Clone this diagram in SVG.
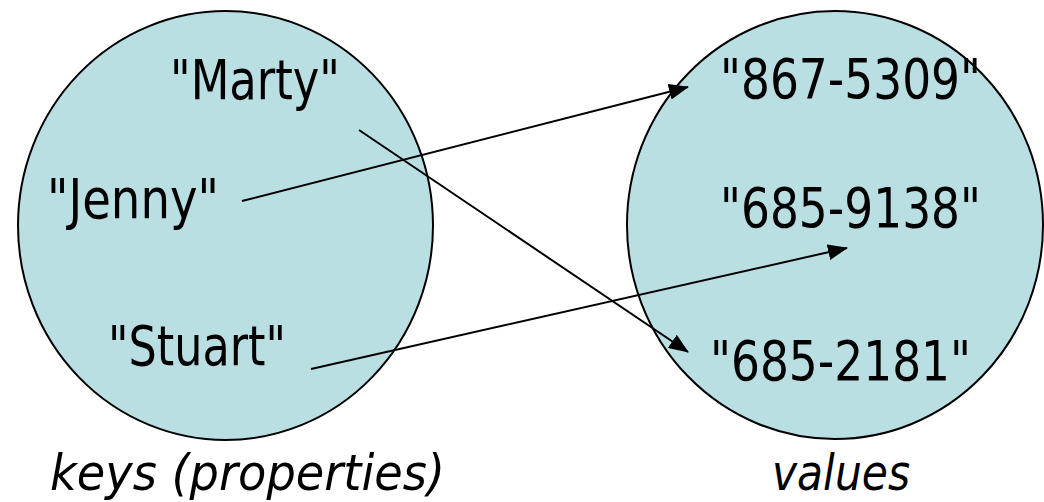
<svg xmlns="http://www.w3.org/2000/svg" width="1044" height="502" viewBox="0 0 1044 502">
<style>
.set{fill:#BADFE3;stroke:#000;stroke-width:2}
.lbl{font-family:"DejaVu Sans","Liberation Sans",sans-serif;font-size:56px;fill:#000}
.cap{font-family:"DejaVu Sans","Liberation Sans",sans-serif;font-size:50px;font-style:italic;fill:#000}
.con{stroke:#000;stroke-width:2;fill:none;marker-end:url(#ah)}
</style>
<defs>
<marker id="ah" viewBox="0 0 20 16" markerWidth="20" markerHeight="16" refX="19" refY="8" orient="auto" markerUnits="userSpaceOnUse">
<path d="M0,0 L20,8 L0,16 z" fill="#000"/>
</marker>
</defs>
<g id="keys">
<ellipse class="set" cx="225.5" cy="225.5" rx="207.5" ry="214.5"/>
<text class="lbl" x="170" y="99" textLength="170" lengthAdjust="spacingAndGlyphs">"Marty"</text>
<text class="lbl" x="47" y="218" textLength="172" lengthAdjust="spacingAndGlyphs">"Jenny"</text>
<text class="lbl" x="108" y="365" textLength="178" lengthAdjust="spacingAndGlyphs">"Stuart"</text>
</g>
<g id="values">
<ellipse class="set" cx="835" cy="225" rx="208" ry="214"/>
<text class="lbl" x="720" y="98" textLength="261" lengthAdjust="spacingAndGlyphs">"867-5309"</text>
<text class="lbl" x="720" y="227" textLength="261" lengthAdjust="spacingAndGlyphs">"685-9138"</text>
<text class="lbl" x="710" y="380" textLength="261" lengthAdjust="spacingAndGlyphs">"685-2181"</text>
</g>
<g id="captions">
<text class="cap" x="50" y="490" textLength="395" lengthAdjust="spacingAndGlyphs">keys (properties)</text>
<text class="cap" x="772" y="490" textLength="138" lengthAdjust="spacingAndGlyphs">values</text>
</g>
<g id="connectors">
<line class="con" x1="242" y1="201" x2="688" y2="87"/>
<line class="con" x1="359" y1="130" x2="688" y2="352"/>
<line class="con" x1="311" y1="369" x2="847" y2="248"/>
</g>
</svg>
